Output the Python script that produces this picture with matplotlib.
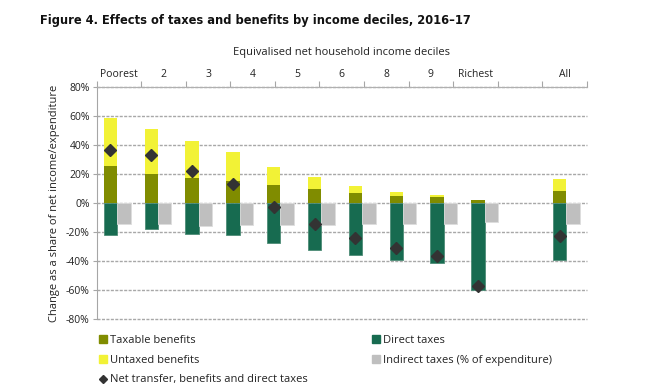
import matplotlib
matplotlib.use('Agg')
import matplotlib.pyplot as plt
from matplotlib.patches import Patch
from matplotlib.lines import Line2D
import numpy as np

plt.rcParams['font.family'] = ['Open Sans', 'DejaVu Sans']

# bar groups (12 slots, slot 11 left empty like the original)
groups = ['Poorest', '2', '3', '4', '5', '6', '7', '8', '9', 'Richest', '', 'All']
taxable = [25.1, 19.9, 16.9, 14.9, 12.1, 9.4, 6.6, 5.0, 3.9, 1.8, np.nan, 8.0]
untaxed = [33.4, 30.8, 25.8, 20.3, 12.4, 8.4, 4.8, 2.3, 1.4, 0.5, np.nan, 8.2]
direct = [-21.9, -18.1, -21.0, -21.9, -27.2, -32.2, -35.7, -39.1, -41.6, -59.9, np.nan, -39.3]
indirect = [-14.6, -14.6, -15.8, -15.3, -15.1, -15.1, -14.6, -14.2, -14.6, -12.8, np.nan, -14.6]
net = [36.6, 32.7, 21.7, 13.3, -2.7, -14.2, -24.0, -31.3, -36.3, -57.4, np.nan, -22.9]

# labels on the top axis (11 slots)
top_labels = ['Poorest', '2', '3', '4', '5', '6', '8', '9', 'Richest', '', 'All']
y_ticks = [80, 60, 40, 20, 0, -20, -40, -60, -80]

c_taxable = '#808C00'
c_untaxed = '#F2F236'
c_direct = '#176B50'
c_indirect = '#BFBFBF'
c_net = '#333333'
c_text = '#222222'

fig = plt.figure(figsize=(6.58, 3.91), dpi=100)
ax = fig.add_axes([0.147, 0.1834, 0.7447, 0.5949])

x = np.arange(len(groups))
w = 0.33
xm = x - 0.165
xg = x + 0.165

ax.bar(xm, taxable, w, color=c_taxable, zorder=3)
ax.bar(xm, untaxed, w, bottom=taxable, color=c_untaxed, zorder=3)
ax.bar(xm, direct, w, color=c_direct, edgecolor='#4E8C76', linewidth=0.6, zorder=3)
ax.bar(xg, indirect, w, color=c_indirect, edgecolor='#DDDDDD', linewidth=0.6, zorder=3)
ax.plot(xm, net, linestyle='none', marker='D', markersize=6.5, color=c_net, zorder=4)

ax.set_xlim(-0.5, len(groups) - 0.5)
ax.set_ylim(-80, 80)
ax.set_yticks(y_ticks)
ax.set_yticklabels(['%d%%' % v for v in y_ticks], fontsize=7.5, color=c_text)
ax.set_xticks([])
ax.yaxis.grid(True, color='#A8A8A8', linestyle=(0, (2.2, 1.0)), linewidth=1.0, zorder=0)
for gl in ax.get_ygridlines():
    gl.set_clip_on(False)
for s in ['right', 'bottom', 'top']:
    ax.spines[s].set_visible(False)
ax.spines['left'].set_color('#A6A6A6')
ax.tick_params(axis='y', length=3, color='#A6A6A6', pad=2)
ax.set_ylabel('Change as a share of net income/expenditure', fontsize=8, color=c_text, labelpad=4)

# top category axis
top = ax.twiny()
top.set_xlim(0, len(top_labels))
top.set_xticks(np.arange(len(top_labels) + 1))
top.set_xticklabels([])
top.set_xticks(np.arange(len(top_labels)) + 0.5, minor=True)
top.set_xticklabels(top_labels, minor=True, fontsize=7.5, color=c_text)
top.tick_params(axis='x', which='major', length=4, color='#A6A6A6', direction='out')
top.tick_params(axis='x', which='minor', length=0, pad=5)
for s in ['right', 'bottom', 'left']:
    top.spines[s].set_visible(False)
top.spines['top'].set_color('#B0B0B0')
top.set_xlabel('Equivalised net household income deciles', fontsize=8, color=c_text, labelpad=10)

fig.text(0.061, 0.948, 'Figure 4. Effects of taxes and benefits by income deciles, 2016\u201317',
         fontsize=9.2, fontweight='bold', fontfamily='DejaVu Sans', fontstretch='condensed',
         color='#111111', va='center')

left_handles = [Patch(color=c_taxable), Patch(color=c_untaxed),
                Line2D([], [], linestyle='none', marker='D', markersize=4, color=c_net)]
left_labels = ['Taxable benefits', 'Untaxed benefits', 'Net transfer, benefits and direct taxes']
right_handles = [Patch(color=c_direct), Patch(color=c_indirect)]
right_labels = ['Direct taxes', 'Indirect taxes (% of expenditure)']

leg_kw = dict(frameon=False, fontsize=8, handlelength=0.7, handleheight=0.7,
              handletextpad=0.3, labelspacing=0.78, borderaxespad=0, borderpad=0, labelcolor=c_text)
fig.legend(left_handles, left_labels, loc='upper left', bbox_to_anchor=(0.151, 0.143), **leg_kw)
fig.legend(right_handles, right_labels, loc='upper left', bbox_to_anchor=(0.565, 0.143), **leg_kw)

fig.savefig('out.png', dpi=100)
